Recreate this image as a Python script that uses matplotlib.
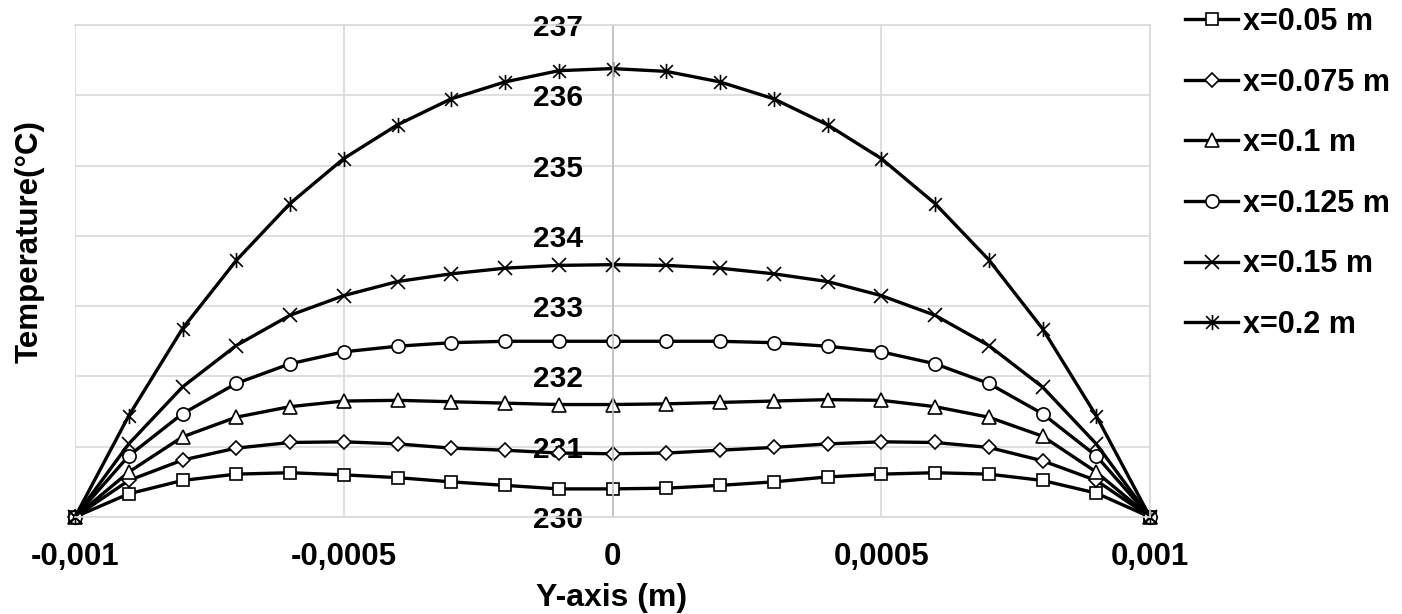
import matplotlib
matplotlib.use("Agg")
import matplotlib.pyplot as plt
from matplotlib.path import Path

plt.rcParams['font.family'] = ['Liberation Sans', 'DejaVu Sans']
plt.rcParams['font.weight'] = 'bold'

# y position across the channel (m)
y_pos = [-0.001, -0.0009, -0.0008, -0.0007, -0.0006, -0.0005, -0.0004, -0.0003, -0.0002, -0.0001, 0.0,
         0.0001, 0.0002, 0.0003, 0.0004, 0.0005, 0.0006, 0.0007, 0.0008, 0.0009, 0.001]

# temperature profiles (°C)
t_005 = [230.0, 230.33, 230.52, 230.61, 230.63, 230.60, 230.56, 230.50, 230.45, 230.40, 230.40,
         230.41, 230.45, 230.50, 230.57, 230.61, 230.63, 230.61, 230.52, 230.34, 230.0]
t_0075 = [230.0, 230.52, 230.81, 230.98, 231.06, 231.07, 231.04, 230.98, 230.95, 230.91, 230.90,
          230.91, 230.95, 230.99, 231.04, 231.07, 231.06, 230.99, 230.80, 230.52, 230.0]
t_01 = [230.0, 230.64, 231.14, 231.42, 231.57, 231.65, 231.66, 231.64, 231.62, 231.60, 231.60,
        231.61, 231.63, 231.65, 231.67, 231.66, 231.57, 231.42, 231.15, 230.64, 230.0]
t_0125 = [230.0, 230.87, 231.47, 231.90, 232.18, 232.35, 232.43, 232.48, 232.50, 232.50, 232.50,
          232.50, 232.50, 232.48, 232.43, 232.35, 232.18, 231.90, 231.47, 230.87, 230.0]
t_015 = [230.0, 231.04, 231.85, 232.44, 232.87, 233.15, 233.35, 233.46, 233.54, 233.58, 233.59,
         233.58, 233.54, 233.46, 233.35, 233.15, 232.87, 232.44, 231.85, 231.04, 230.0]
t_02 = [230.0, 231.44, 232.68, 233.65, 234.46, 235.10, 235.58, 235.95, 236.19, 236.35, 236.38,
        236.34, 236.19, 235.95, 235.58, 235.10, 234.46, 233.66, 232.68, 231.44, 230.0]

labels = ["x=0.05 m", "x=0.075 m", "x=0.1 m", "x=0.125 m", "x=0.15 m", "x=0.2 m"]
x_ticks = [-0.001, -0.0005, 0.0, 0.0005, 0.001]
x_ticklabels = ["-0,001", "-0,0005", "0", "0,0005", "0,001"]
y_ticks = [230, 231, 232, 233, 234, 235, 236, 237]

# excel style star: an x with a vertical bar
star = Path([(-1, -1), (1, 1), (-1, 1), (1, -1), (0, -1.2), (0, 1.2)],
            [Path.MOVETO, Path.LINETO] * 3)

series = [t_005, t_0075, t_01, t_0125, t_015, t_02]
markers = ['s', 'D', '^', 'o', 'x', star]
sizes = [9, 7, 9.5, 9.5, 10, 11]

fig = plt.figure(figsize=(14.02, 6.14), dpi=100)
ax = fig.add_axes([75 / 1402, 1 - 517 / 614, 1075 / 1402, 492 / 614])

for vals, lab, mk, ms in zip(series, labels, markers, sizes):
    ax.plot(y_pos, vals, color='black', linewidth=2.4, marker=mk, markersize=ms,
            markerfacecolor='white', markeredgecolor='black', markeredgewidth=1.2,
            label=lab, clip_on=False)

ax.set_xlim(-0.001, 0.001)
ax.set_ylim(230, 237)
ax.set_xticks(x_ticks)
ax.set_xticklabels(x_ticklabels)
ax.set_yticks(y_ticks)
ax.grid(True, color='#d9d9d9', linewidth=1.2)
ax.set_axisbelow(True)

ax.spines['left'].set_position(('data', 0))
ax.spines['left'].set_color('#bfbfbf')
ax.spines['left'].set_linewidth(1.2)
for s in ['top', 'right', 'bottom']:
    ax.spines[s].set_color('#d9d9d9')
    ax.spines[s].set_linewidth(1.2)

ax.tick_params(axis='x', length=0, pad=18, labelsize=22.5)
ax.tick_params(axis='y', length=0, pad=21, labelsize=21.5)

fig.text(612 / 1402, 1 - 598 / 614, "Y-axis (m)", ha='center', va='center',
         fontsize=23, fontweight='bold')
fig.text(30 / 1402, 1 - 242 / 614, "Temperature(°C)", ha='center', va='center',
         rotation=90, fontsize=22.5, fontweight='bold')

fig.legend(loc='upper left', bbox_to_anchor=(1185 / 1402, 1 - 7 / 614), frameon=False,
           fontsize=22, handlelength=1.75, handletextpad=0.15, labelspacing=1.0,
           borderaxespad=0, borderpad=0)

fig.savefig("out.png", dpi=100)
